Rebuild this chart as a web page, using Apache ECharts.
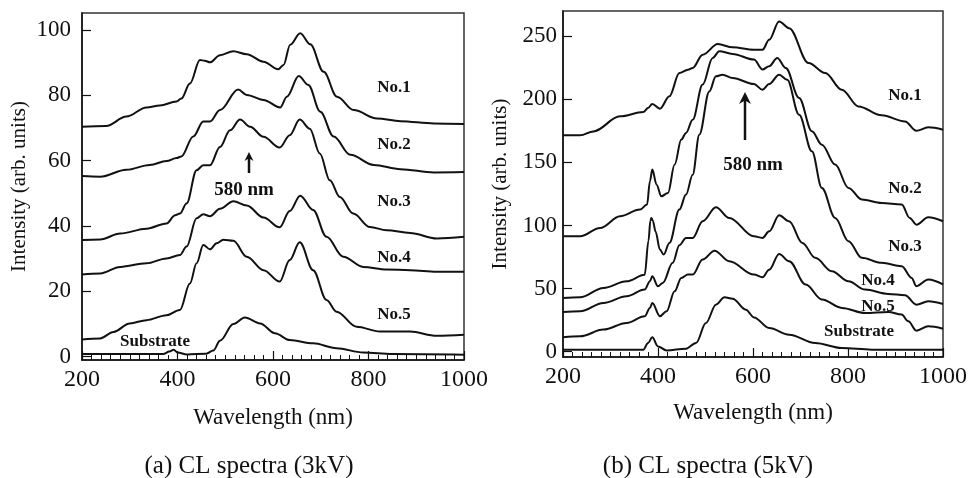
<!DOCTYPE html>
<html>
<head>
<meta charset="utf-8">
<script src="https://cdn.jsdelivr.net/npm/echarts@6/dist/echarts.min.js"></script>
<style>
html,body{margin:0;padding:0;background:#fff;}
#chart{width:970px;height:478px;}
</style>
</head>
<body>
<div id="chart"></div>
<script>
// ---- Data: (a) CL spectra (3kV) — [wavelength nm, intensity] ----
const a_no1 = [[200,70.4],[250,70.6],[293,73.5],[335,76.3],[363,76.9],[398,78.1],[408,79],[426,83.6],[447,90.8],[457,90.6],[468,90.1],[489,92.3],[517,93.5],[545,92.6],[580,90.3],[611,88],[622,89.3],[636,95.5],[657,99],[678,95.6],[706,87.2],[734,79.6],[769,75.5],[818,72.9],[867,72.1],[937,71.4],[1000,71.2]];
const a_no2 = [[200,55.3],[238,55.1],[293,57.2],[342,58.7],[377,59.9],[398,60.8],[408,61.3],[433,67.4],[454,72],[468,72],[489,75.5],[527,81.8],[545,80.1],[580,78.6],[615,76.3],[629,79.6],[654,85.9],[674,83.2],[699,75],[727,67.4],[762,61.8],[811,58.7],[867,57.4],[937,56.4],[1000,56.5]];
const a_no3 = [[200,35.7],[238,35.9],[280,37.7],[335,39.2],[377,40.8],[395,43.3],[405,43.8],[419,46.9],[440,57.1],[454,58.6],[468,58.6],[489,64.2],[510,69.3],[531,72.6],[552,70.4],[580,67.3],[614,64],[635,67.8],[656,72.6],[677,69.8],[698,62.2],[719,54],[740,48.9],[768,43.8],[803,39.7],[838,38.7],[887,37.9],[943,36.2],[1000,36.7]];
const a_no4 = [[200,25.2],[238,25.5],[280,27.5],[335,28.6],[377,30.1],[405,31.1],[419,33.7],[440,42.4],[454,43.6],[468,43],[489,45.3],[517,47.6],[545,46.3],[580,42.6],[614,39.6],[635,44.6],[657,49.3],[684,44.9],[712,36.7],[747,30.6],[789,27.5],[838,26.7],[887,26.5],[943,26],[1000,26]];
const a_no5 = [[200,5.3],[238,5.6],[266,7.6],[300,10.2],[335,11.2],[377,12.7],[405,14.3],[426,22.4],[440,28.6],[454,34.2],[468,32.9],[482,34.7],[496,35.8],[517,35.5],[545,30.6],[580,26.5],[614,23],[635,29.6],[656,35],[684,26.5],[712,17.4],[733,13.8],[775,9.2],[824,7.7],[887,7.7],[943,6.4],[1000,6.7]];
const a_sub = [[200,0.8],[370,0.8],[383,1.6],[392,2.1],[400,1.3],[420,0.7],[460,0.9],[475,1.9],[489,4.9],[517,10],[541,12],[573,10.2],[604,7.2],[635,5.1],[684,4.1],[733,2.6],[789,1.3],[850,0.8],[1000,0.6]];

// ---- Data: (b) CL spectra (5kV) ----
const b_no1 = [[200,171.5],[236,171.5],[264,174.6],[320,186.5],[369,189.9],[379,193.1],[388,196.3],[404,192.6],[424,202.4],[445,220.9],[463,223.5],[473,224.9],[494,235.4],[526,243.8],[557,241.2],[602,239.3],[620,239.3],[634,247.2],[655,261.7],[676,256.4],[717,228.7],[752,220.8],[787,207.6],[822,194.4],[871,187.3],[920,182.5],[944,175.1],[969,177.8],[1000,175.9]];
const b_no2 = [[200,91.4],[236,91.4],[278,98],[320,107.3],[362,112.6],[377,116.6],[383,135.1],[388,144.3],[397,132.4],[407,123.2],[421,125.8],[435,148.3],[449,168.1],[459,173.4],[473,183.9],[494,211.7],[515,232.8],[529,238.1],[557,236],[602,231.5],[620,223.6],[634,226.2],[651,232.8],[669,224.9],[697,201.1],[724,174.7],[745,164.1],[773,148.3],[801,129.8],[829,120.6],[871,117.9],[913,116.6],[930,106],[944,100.7],[969,106.5],[1000,103.4]];
const b_no3 = [[200,42.6],[236,43.1],[285,50.5],[334,55.8],[372,61],[380,88],[384,104],[386,106],[389,104],[395,95],[404,80.9],[412,77],[424,86.2],[445,112.6],[459,124.5],[473,140.3],[487,172],[508,206.3],[522,218.2],[536,219.5],[557,216.9],[602,212.1],[620,207.6],[634,212.1],[655,219.5],[672,215.5],[697,187.8],[724,158.8],[745,129.8],[773,106],[801,87.6],[829,74.4],[871,70.4],[913,67.8],[934,58.5],[944,51.9],[969,57.2],[1000,53.3]];
const b_no4 = [[200,31.5],[236,32],[285,38.6],[334,43.9],[372,49.2],[383,55.8],[388,59.8],[400,51.8],[410,54.5],[431,70.4],[445,84.4],[459,90.2],[473,90.2],[494,103.4],[522,114.5],[550,106],[602,91.4],[620,90.2],[634,95.4],[655,108.1],[676,103.4],[704,86.2],[731,74.4],[766,63.8],[801,55.8],[836,49.2],[885,45.8],[920,44.7],[944,37.3],[969,39.9],[1000,37.8]];
const b_no5 = [[200,11.4],[236,12.2],[285,17.5],[334,22.8],[372,28.1],[383,34.7],[388,38.6],[404,28.1],[418,32],[435,47.9],[449,58.5],[463,61.1],[473,61.1],[494,73],[519,80.1],[550,71.7],[602,61.1],[620,59],[634,65],[655,77.5],[676,71.7],[711,53.2],[745,41.4],[787,34.7],[836,30.7],[885,31.5],[913,29.4],[927,24.1],[944,16.7],[969,20.1],[1000,18.2]];
const b_sub = [[200,1.6],[369,1.6],[379,6.9],[388,11.4],[400,4.2],[418,1],[459,2.4],[480,6.9],[501,22.8],[522,37.3],[540,43.1],[557,42],[585,33.3],[602,27.2],[634,18.8],[676,13.5],[731,6.9],[787,2.9],[850,1.6],[1000,1.6]];

// ---- Tick labels ----
const xTicks = [200, 400, 600, 800, 1000];
const yTicksA = [0, 20, 40, 60, 80, 100];
const yTicksB = [0, 50, 100, 150, 200, 250];

const SERIF = '"Liberation Serif", "Times New Roman", serif';
const INK = '#111';

function xAxisCfg(gridIndex, gap) {
  return {
    type: 'value', gridIndex: gridIndex, min: 200, max: 1000, interval: 200,
    name: 'Wavelength (nm)', nameLocation: 'middle', nameGap: gap,
    nameTextStyle: { fontFamily: SERIF, fontSize: 23, color: INK },
    axisLine: { show: true, onZero: false, lineStyle: { color: INK, width: 1.5 } },
    axisTick: { show: true, inside: true, length: 9, lineStyle: { color: INK, width: 1.2 } },
    minorTick: { show: true, splitNumber: 10, length: 5, lineStyle: { color: INK, width: 1 } },
    splitLine: { show: false },
    axisLabel: { fontFamily: SERIF, fontSize: 24, color: INK, margin: 8,
      customValues: xTicks, formatter: function (v) { return String(v); } }
  };
}
function yAxisCfg(gridIndex, min, max, ticks, margin) {
  return {
    type: 'value', gridIndex: gridIndex, min: min, max: max,
    name: 'Intensity (arb. units)', nameLocation: 'middle', nameGap: 52,
    nameTextStyle: { fontFamily: SERIF, fontSize: 21, color: INK },
    axisLine: { show: true, onZero: false, lineStyle: { color: INK, width: 1.5 } },
    axisTick: { show: true, inside: true, length: 9, customValues: ticks, lineStyle: { color: INK, width: 1.2 } },
    splitLine: { show: false },
    axisLabel: { fontFamily: SERIF, fontSize: 23, color: INK, margin: margin, customValues: ticks,
      formatter: function (v) { return String(v); } }
  };
}
function line(data, xi, yi) {
  return {
    type: 'line', data: data, xAxisIndex: xi, yAxisIndex: yi,
    showSymbol: false, smooth: 0.35, smoothMonotone: 'x',
    lineStyle: { color: INK, width: 2 }, silent: true, animation: false
  };
}
function centered(text, x, y, size) {
  return { type: 'text', x: x, y: y, style: { text: text, fill: INK,
    font: 'bold ' + size + 'px ' + SERIF, align: 'center', verticalAlign: 'middle' } };
}
function caption(text, x, y) {
  return { type: 'text', x: x, y: y, style: { text: text, fill: INK,
    font: '25px ' + SERIF, align: 'center', verticalAlign: 'middle' } };
}
function arrow(x, yTail, yTip, hw, hh) {
  return { type: 'group', children: [
    { type: 'line', shape: { x1: x, y1: yTail, x2: x, y2: yTip + hh * 0.6 }, style: { stroke: INK, lineWidth: 2.5 } },
    { type: 'polygon', shape: { points: [[x, yTip], [x - hw / 2, yTip + hh], [x, yTip + hh * 0.7], [x + hw / 2, yTip + hh]] }, style: { fill: INK } }
  ] };
}

const chart = echarts.init(document.getElementById('chart'), null, { renderer: 'canvas' });
chart.setOption({
  animation: false,
  backgroundColor: '#fff',
  grid: [
    { left: 82, top: 13, width: 382, height: 347, show: true, borderColor: '#333', borderWidth: 1.5 },
    { left: 563, top: 11, width: 382, height: 346, show: true, borderColor: '#333', borderWidth: 1.5 }
  ],
  xAxis: [xAxisCfg(0, 46), xAxisCfg(1, 44)],
  yAxis: [yAxisCfg(0, -1, 105.2, yTicksA, 11), yAxisCfg(1, -4.2, 270, yTicksB, 6)],
  series: [
    line(a_no1, 0, 0), line(a_no2, 0, 0), line(a_no3, 0, 0), line(a_no4, 0, 0), line(a_no5, 0, 0), line(a_sub, 0, 0),
    line(b_no1, 1, 1), line(b_no2, 1, 1), line(b_no3, 1, 1), line(b_no4, 1, 1), line(b_no5, 1, 1), line(b_sub, 1, 1)
  ],
  graphic: [
    centered('No.1', 394, 88, 17), centered('No.2', 394, 145, 17), centered('No.3', 394, 202, 17),
    centered('No.4', 394, 258, 17), centered('No.5', 394, 315, 17), centered('Substrate', 155, 342, 17),
    centered('580 nm', 244, 190, 19), arrow(249, 173, 152, 9, 9),
    centered('No.1', 905, 96, 17), centered('No.2', 905, 189, 17), centered('No.3', 905, 247, 17),
    centered('No.4', 878, 281, 17), centered('No.5', 878, 307, 17), centered('Substrate', 859, 332, 17),
    centered('580 nm', 753, 165, 19), arrow(745, 140, 92, 12, 12),
    caption('(a) CL spectra (3kV)', 249, 466), caption('(b) CL spectra (5kV)', 708, 466)
  ]
});
</script>
</body>
</html>
